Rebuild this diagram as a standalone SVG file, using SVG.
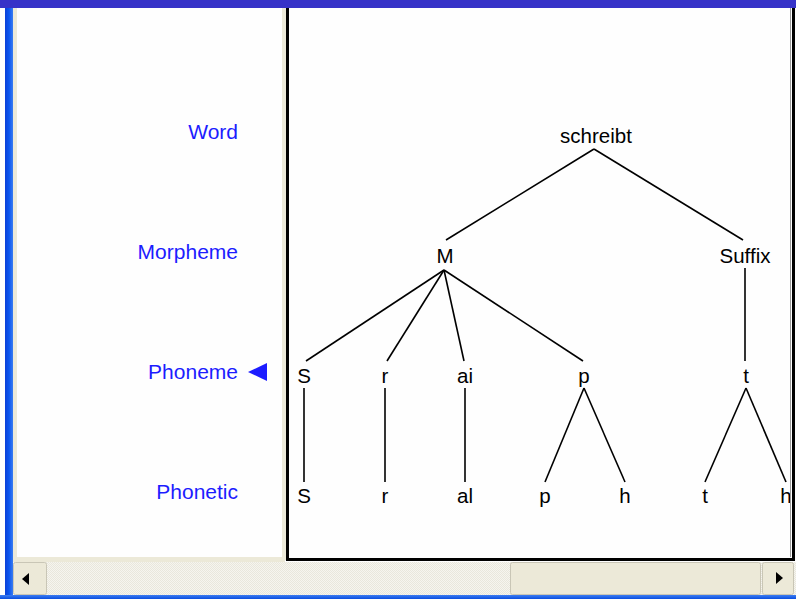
<svg xmlns="http://www.w3.org/2000/svg" width="796" height="599" viewBox="0 0 796 599">
<style>
.lbl{font-family:"Liberation Sans",Arial,sans-serif;font-size:21px;fill:#1c1cff;text-anchor:end}
.tn{font-family:"Liberation Sans",Arial,sans-serif;font-size:20.5px;fill:#000;text-anchor:middle}
.edge{stroke:#000;stroke-width:1.6;fill:none}
.btn{fill:#ece9d8;stroke:#c9c6b6;stroke-width:1}
</style>
<defs>
<linearGradient id="lb" x1="0" x2="1" y1="0" y2="0">
<stop offset="0" stop-color="#0a3fd6"/><stop offset="0.5" stop-color="#0a55f0"/><stop offset="1" stop-color="#3a7cf0"/>
</linearGradient>
<linearGradient id="bb" x1="0" x2="0" y1="0" y2="1">
<stop offset="0" stop-color="#3d7df0"/><stop offset="1" stop-color="#0a4ee0"/>
</linearGradient>
<pattern id="chk" width="2" height="2" patternUnits="userSpaceOnUse">
<rect width="2" height="2" fill="#f6f5ef"/><rect width="1" height="1" fill="#e9e7dc"/><rect x="1" y="1" width="1" height="1" fill="#e9e7dc"/>
</pattern>
</defs>
<rect width="796" height="599" fill="#fefefe"/>
<!-- level labels -->
<g id="levels">
<text class="lbl" x="238" y="139">Word</text>
<text class="lbl" x="238" y="259">Morpheme</text>
<text class="lbl" x="238" y="379">Phoneme</text>
<polygon points="248,372 267,363 267,381" fill="#1c1cff"/>
<text class="lbl" x="238" y="499">Phonetic</text>
</g>
<!-- connectors -->
<g id="connectors">
<line class="edge" x1="594" y1="149" x2="446" y2="240"/>
<line class="edge" x1="594" y1="149" x2="743" y2="240"/>
<line class="edge" x1="444" y1="270" x2="306" y2="361"/>
<line class="edge" x1="444" y1="270" x2="387" y2="361"/>
<line class="edge" x1="444" y1="270" x2="464" y2="361"/>
<line class="edge" x1="444" y1="270" x2="583" y2="361"/>
<line class="edge" x1="745" y1="268" x2="745" y2="361"/>
<line class="edge" x1="304" y1="388" x2="304" y2="482"/>
<line class="edge" x1="385" y1="388" x2="385" y2="482"/>
<line class="edge" x1="465" y1="388" x2="465" y2="482"/>
<line class="edge" x1="584" y1="388" x2="545" y2="482"/>
<line class="edge" x1="584" y1="388" x2="625" y2="482"/>
<line class="edge" x1="746" y1="388" x2="705" y2="482"/>
<line class="edge" x1="746" y1="388" x2="786" y2="482"/>
</g>
<!-- nodes -->
<g id="n-schreibt"><text class="tn" x="596" y="143">schreibt</text></g>
<g id="n-M"><text class="tn" x="445" y="263">M</text></g>
<g id="n-Suffix"><text class="tn" x="745" y="263">Suffix</text></g>
<g id="n-S1"><text class="tn" x="304" y="383">S</text></g>
<g id="n-r1"><text class="tn" x="385" y="383">r</text></g>
<g id="n-ai"><text class="tn" x="465" y="383">ai</text></g>
<g id="n-p1"><text class="tn" x="584" y="383">p</text></g>
<g id="n-t1"><text class="tn" x="746" y="383">t</text></g>
<g id="n-S2"><text class="tn" x="304" y="503">S</text></g>
<g id="n-r2"><text class="tn" x="385" y="503">r</text></g>
<g id="n-al"><text class="tn" x="465" y="503">al</text></g>
<g id="n-p2"><text class="tn" x="545" y="503">p</text></g>
<g id="n-h1"><text class="tn" x="625" y="503">h</text></g>
<g id="n-t2"><text class="tn" x="705" y="503">t</text></g>
<g id="n-h2"><text class="tn" x="786" y="503">h</text></g>
<!-- right pane frame -->
<rect x="287.5" y="-10" width="506" height="569.5" fill="none" stroke="#000" stroke-width="3"/>
<line x1="790.5" y1="8" x2="790.5" y2="557" stroke="#9a9a9a" stroke-width="1"/>
<!-- window chrome -->
<rect x="0" y="0" width="796" height="8" fill="#3632c8"/>
<rect x="5" y="8" width="8" height="591" fill="url(#lb)"/>
<rect x="13" y="8" width="4" height="554" fill="#ece9d8"/>
<rect x="17" y="557" width="268" height="5" fill="#ece9d8"/>
<rect x="282" y="8" width="4" height="552" fill="#ece9d8"/>
<!-- scrollbar -->
<rect x="13" y="562" width="783" height="33" fill="url(#chk)"/>
<rect x="13.5" y="562.5" width="33" height="32" rx="2" class="btn"/>
<polygon points="22,579 29,573 29,585" fill="#000"/>
<rect x="510.5" y="562.5" width="250" height="32" rx="2" class="btn"/>
<rect x="762.5" y="562.5" width="31" height="32" rx="2" class="btn"/>
<polygon points="783,578 776,572 776,584" fill="#000"/>
<rect x="0" y="595" width="796" height="4" fill="url(#bb)"/>
</svg>
